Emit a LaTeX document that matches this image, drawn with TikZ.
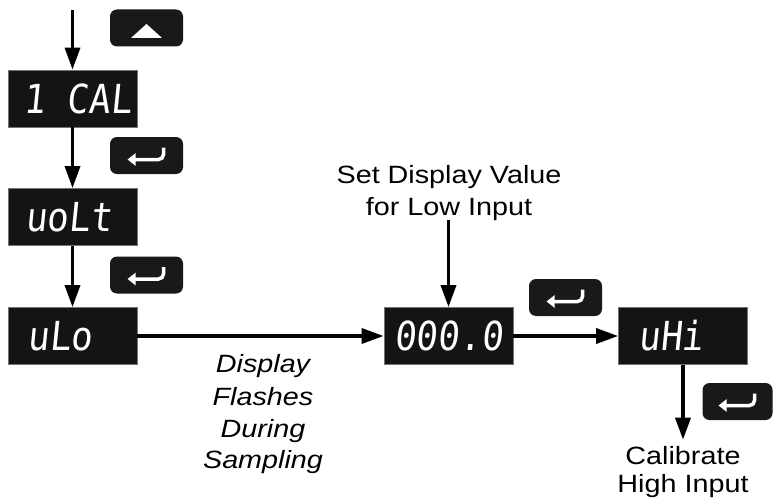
\documentclass[tikz,border=0pt]{standalone}
\usepackage{fontspec}
\setmainfont{Liberation Sans}
\newfontfamily\lblfont[FakeStretch=1.15]{Liberation Sans}
\newfontfamily\segfont[FakeStretch=0.9,FakeSlant=0.1]{DejaVu Sans Mono}
\usetikzlibrary{arrows.meta}
\newcommand{\entericon}[1]{%
  \draw[enterarrow] ([shift={(17,-8)}]#1.center) -- ([shift={(17,4)}]#1.center) -- ([shift={(-19,4)}]#1.center);}
\begin{document}
\begin{tikzpicture}[x=1pt,y=-1pt,
  flow/.style={line width=3.5pt, -{Triangle[length=22pt,width=15pt]}},
  disp/.style={fill=black!92, draw=black!55, line width=0.8pt, minimum width=129pt, minimum height=57pt, inner sep=0pt, text=white, font=\segfont\fontsize{40}{40}\selectfont},
  btn/.style={fill=black!90, rounded corners=7pt, minimum width=73pt, minimum height=37pt, inner sep=0pt},
  lbl/.style={font=\lblfont\fontsize{25}{30}\selectfont, inner sep=0pt, anchor=base},
  ilbl/.style={lbl, font=\lblfont\itshape\fontsize{25}{30}\selectfont},
  enterarrow/.style={white, line width=3.5pt, rounded corners=5pt, -{Triangle[length=8pt,width=12pt]}}
]
\useasboundingbox (0,0) rectangle (773,503);

% displays
\node[disp] (cal) at (72.5,98.5) {\hspace*{10pt}1 CAL};
\node[disp] (volt) at (72.5,217) {uoLt\hspace*{8pt}};
\node[disp] (vlo) at (72.5,336) {uLo\hspace*{25pt}};
\node[disp] (val) at (448.5,336) {000.0};
\node[disp] (vhi) at (683,336) {uHi\hspace*{24pt}};

% buttons
\node[btn] (bup) at (146.5,28) {};
\node[btn] (b1) at (146.5,155.5) {};
\node[btn] (b2) at (146.5,275) {};
\node[btn] (b3) at (565.5,297.5) {};
\node[btn, minimum width=70pt] (b4) at (737.5,401.5) {};

\fill[white] ([shift={(0,-4)}]bup.center) -- ([shift={(15.5,10)}]bup.center) -- ([shift={(-15.5,10)}]bup.center) -- cycle;
\entericon{b1}
\entericon{b2}
\entericon{b3}
\entericon{b4}

% labels
\node[lbl] (set1) at (449,183) {Set Display Value};
\node[lbl] (set2) at (449,215) {for Low Input};
\node[ilbl] (fl1) at (263,372) {Display};
\node[ilbl] (fl2) at (263,405) {Flashes};
\node[ilbl] (fl3) at (263,437) {During};
\node[ilbl] (fl4) at (263,468) {Sampling};
\node[lbl] (hi1) at (683,464) {Calibrate};
\node[lbl] (hi2) at (683,492) {High Input};

% connectors
\coordinate (start) at (72.5,10);
\draw[flow] (start) -- (cal.north);
\draw[flow] (cal.south) -- (volt.north);
\draw[flow] (volt.south) -- (vlo.north);
\draw[flow] (vlo.east) -- (val.west);
\draw[flow] (val.east) -- (vhi.west);
\draw[flow] (val.north |- set2.south) -- (val.north);
\draw[flow] (vhi.south) -- ([yshift=6pt]hi1.north);
\end{tikzpicture}
\end{document}
